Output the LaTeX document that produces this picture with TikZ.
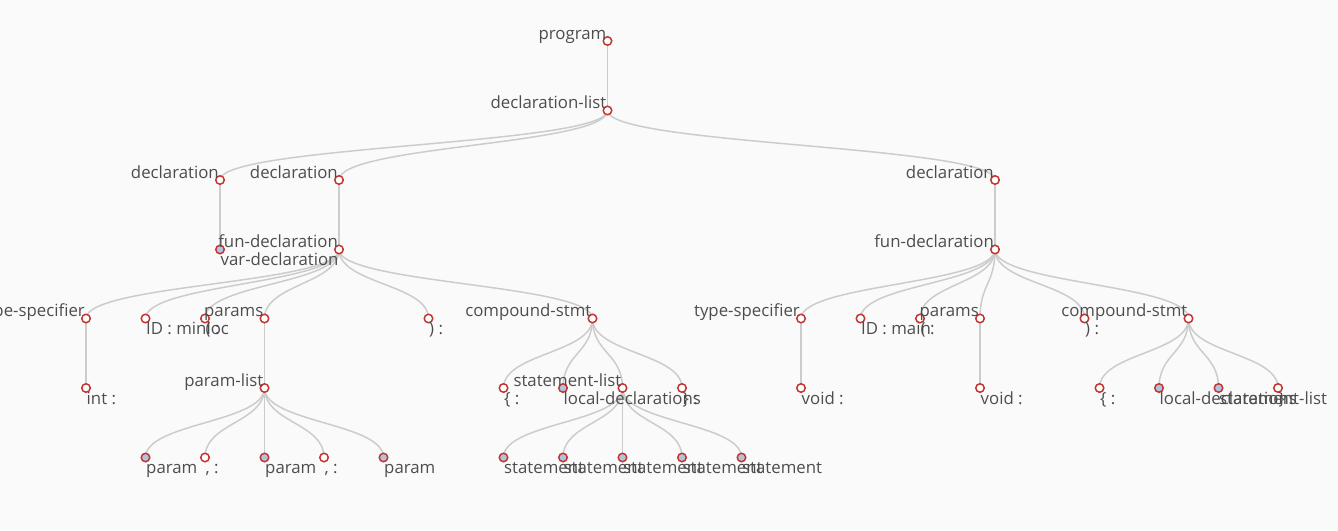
\documentclass[tikz,border=0pt]{standalone}
\usepackage{fontspec}
\setmainfont{Open Sans}
\usetikzlibrary{calc,backgrounds}
\definecolor{paper}{HTML}{FAFAFA}
\definecolor{ring}{HTML}{C23531}
\definecolor{foldfill}{HTML}{B0C4DE}
\definecolor{linkcol}{HTML}{CCCCCC}
\definecolor{txt}{HTML}{4D4D4D}
\tikzset{
	dot/.style={circle, draw=ring, fill=white, line width=1.5pt, inner sep=0pt, minimum size=8.5pt},
	lbl/.style={inner sep=0pt, text=txt, font=\fontsize{16.8}{19}\selectfont},
	ilbl/.style={lbl, anchor=base east, xshift=-1pt, yshift=2pt},
	llbl/.style={lbl, anchor=base west, xshift=0.5pt, yshift=-16pt},
	inode/.style={dot, append after command={node[ilbl] at (\tikzlastnode.center) {#1}}},
	leaf/.style={dot, append after command={node[llbl] at (\tikzlastnode.center) {#1}}},
	folded/.style={leaf={#1}, fill=foldfill},
	link/.style={draw=linkcol, line width=1.5pt}
}
\newcommand\treeedge[2]{\draw[link] (#1.center) .. controls ($(#1.center)!0.5!(#1.center|-#2.center)$) and ($(#2.center)!0.5!(#2.center|-#1.center)$) .. (#2.center);}

\begin{document}
\begin{tikzpicture}[x=1pt, y=-1pt]
	%%%%% START %%%%%
	
	\useasboundingbox (0, 0) rectangle (1338, 530);
	
	\node[inode=program] (prog) at (607.5, 41) {};
	\node[inode=declaration-list] (dlist) at (607.5, 110.5) {};
	
	\node[inode=declaration] (decA) at (220, 180) {};
	\node[inode=declaration] (decB) at (339, 180) {};
	\node[inode=declaration] (decC) at (995, 180) {};
	
	\node[folded=var-declaration] (varA) at (220, 249.5) {};
	\node[inode=fun-declaration] (funB) at (339, 249.5) {};
	\node[inode=fun-declaration] (funC) at (995, 249.5) {};
	
	% minloc
	\node[inode=type-specifier] (tsB) at (86, 318.5) {};
	\node[leaf={ID : minloc}] (idB) at (145.5, 318.5) {};
	\node[leaf={( :}] (lpB) at (205, 318.5) {};
	\node[inode=params] (parB) at (264.5, 318.5) {};
	\node[leaf={) :}] (rpB) at (428.5, 318.5) {};
	\node[inode=compound-stmt] (cmpB) at (592.5, 318.5) {};
	
	\node[leaf={int :}] (intB) at (86, 388) {};
	\node[inode=param-list] (plB) at (264.5, 388) {};
	\node[leaf={\{ :}] (lbB) at (503.5, 388) {};
	\node[folded=local-declarations] (ldB) at (563, 388) {};
	\node[inode=statement-list] (slB) at (622.5, 388) {};
	\node[leaf={\} :}] (rbB) at (682, 388) {};
	
	\node[folded=param] (paA) at (145.5, 457.5) {};
	\node[leaf={, :}] (cmA) at (205, 457.5) {};
	\node[folded=param] (paB) at (264.5, 457.5) {};
	\node[leaf={, :}] (cmB) at (324, 457.5) {};
	\node[folded=param] (paC) at (383.5, 457.5) {};
	
	\node[folded=statement] (stA) at (503.5, 457.5) {};
	\node[folded=statement] (stB) at (563, 457.5) {};
	\node[folded=statement] (stC) at (622.5, 457.5) {};
	\node[folded=statement] (stD) at (682, 457.5) {};
	\node[folded=statement] (stE) at (741.5, 457.5) {};
	
	% main
	\node[inode=type-specifier] (tsC) at (801, 318.5) {};
	\node[leaf={ID : main}] (idC) at (860.5, 318.5) {};
	\node[leaf={( :}] (lpC) at (920, 318.5) {};
	\node[inode=params] (parC) at (980, 318.5) {};
	\node[leaf={) :}] (rpC) at (1084.5, 318.5) {};
	\node[inode=compound-stmt] (cmpC) at (1188.5, 318.5) {};
	
	\node[leaf={void :}] (vtC) at (801, 388) {};
	\node[leaf={void :}] (vpC) at (980, 388) {};
	\node[leaf={\{ :}] (lbC) at (1099.5, 388) {};
	\node[folded=local-declarations] (ldC) at (1159, 388) {};
	\node[folded=statement-list] (slC) at (1218.5, 388) {};
	\node[leaf={\} :}] (rbC) at (1278, 388) {};
	
	\begin{pgfonlayer}{background}
		\fill[paper] (0, 0) rectangle (1338, 530);
		\foreach \p/\c in {prog/dlist, dlist/decA, dlist/decB, dlist/decC,
			decA/varA, decB/funB, decC/funC,
			funB/tsB, funB/idB, funB/lpB, funB/parB, funB/rpB, funB/cmpB,
			tsB/intB, parB/plB, plB/paA, plB/cmA, plB/paB, plB/cmB, plB/paC,
			cmpB/lbB, cmpB/ldB, cmpB/slB, cmpB/rbB,
			slB/stA, slB/stB, slB/stC, slB/stD, slB/stE,
			funC/tsC, funC/idC, funC/lpC, funC/parC, funC/rpC, funC/cmpC,
			tsC/vtC, parC/vpC, cmpC/lbC, cmpC/ldC, cmpC/slC, cmpC/rbC}
			{\treeedge{\p}{\c}}
	\end{pgfonlayer}
	
	%%%%% END %%%%%
\end{tikzpicture}
\end{document}
